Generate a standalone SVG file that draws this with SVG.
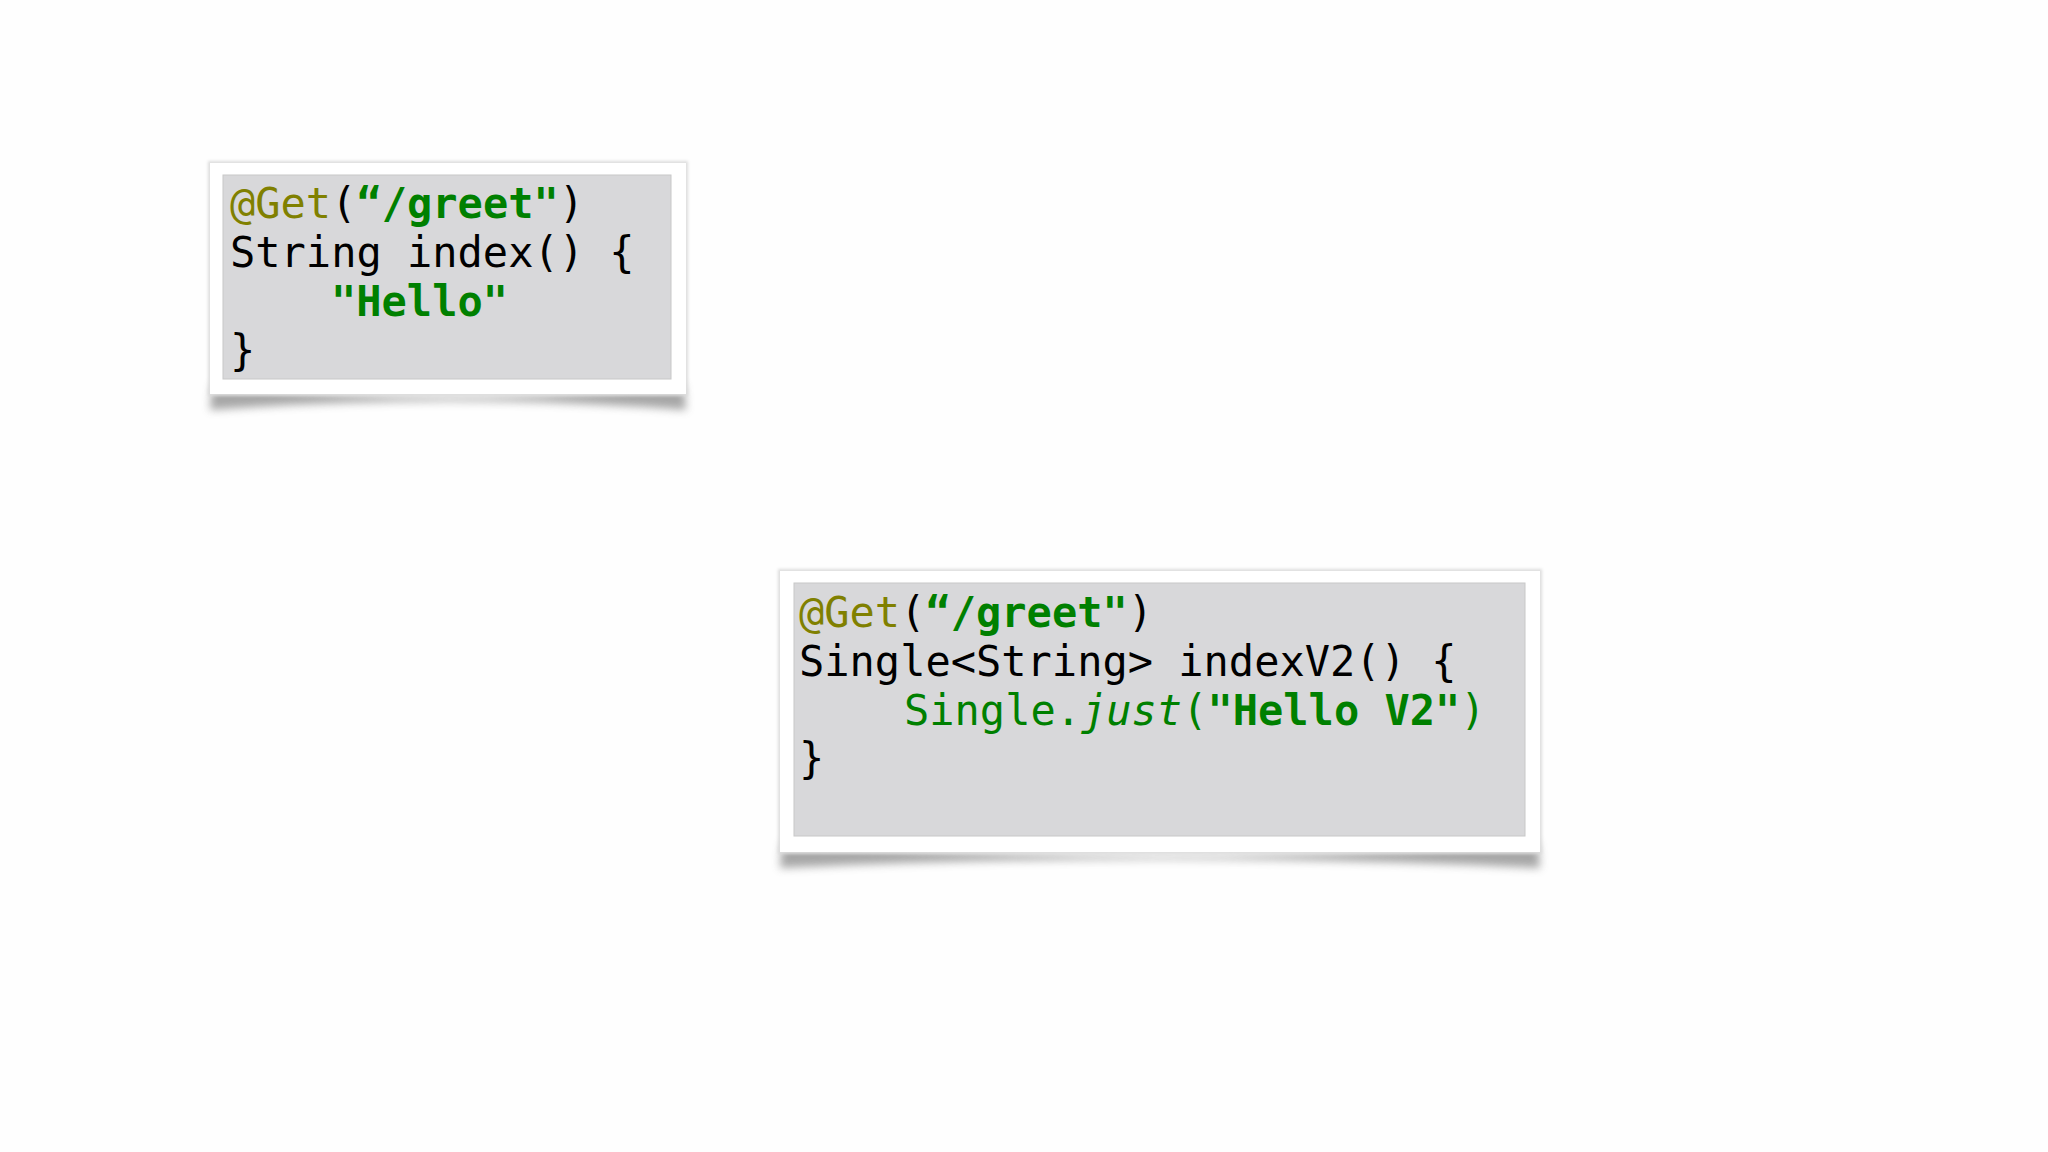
<svg xmlns="http://www.w3.org/2000/svg" width="2048" height="1152" viewBox="0 0 2048 1152">
<defs>
<filter id="blur" x="-10%" y="-100%" width="120%" height="300%"><feGaussianBlur stdDeviation="4"/></filter>
<filter id="edge" x="-5%" y="-5%" width="110%" height="110%"><feGaussianBlur stdDeviation="1.5"/></filter>
<style>
.code{font-family:"DejaVu Sans Mono",monospace;font-size:42px;fill:#000}
.ann{fill:#808000}
.str{fill:#008000;font-weight:bold}
.grn{fill:#008000}
.frame{fill:#fff}
.gray{fill:#d8d8da;stroke:#c8c8c8;stroke-width:1}
.sh{fill:#8a8a8a;opacity:0.75}
</style>
</defs>
<rect width="2048" height="1152" fill="#fefefe"/>
<g id="box1">
<path class="sh" filter="url(#blur)" d="M212 384 Q448 410 684 384 L686 410 Q448 392 210 410 Z"/>
<rect x="208" y="161" width="480" height="235" fill="#ddd" filter="url(#edge)"/>
<rect class="frame" x="210" y="163" width="476" height="231"/>
<rect class="gray" x="223" y="175" width="448" height="204"/>
<text class="code" xml:space="preserve"><tspan x="230" y="218"><tspan class="ann">@Get</tspan>(<tspan class="str">“/greet"</tspan>)</tspan><tspan x="230" y="267">String index() {</tspan><tspan x="331" y="316" class="str">"Hello"</tspan><tspan x="230" y="365">}</tspan></text>
</g>
<g id="box2">
<path class="sh" filter="url(#blur)" d="M782 842 Q1160 870 1538 842 L1540 868 Q1160 850 780 868 Z"/>
<rect x="778" y="569" width="764" height="285" fill="#ddd" filter="url(#edge)"/>
<rect class="frame" x="780" y="571" width="760" height="281"/>
<rect class="gray" x="794" y="583" width="731" height="253"/>
<text class="code" xml:space="preserve"><tspan x="799" y="627"><tspan class="ann">@Get</tspan>(<tspan class="str">“/greet"</tspan>)</tspan><tspan x="799" y="676">Single&lt;String&gt; indexV2() {</tspan><tspan x="904" y="725" class="grn">Single.<tspan font-style="italic">just</tspan>(<tspan class="str">"Hello V2"</tspan>)</tspan><tspan x="799" y="773">}</tspan></text>
</g>
<g id="connectors"/>
</svg>
